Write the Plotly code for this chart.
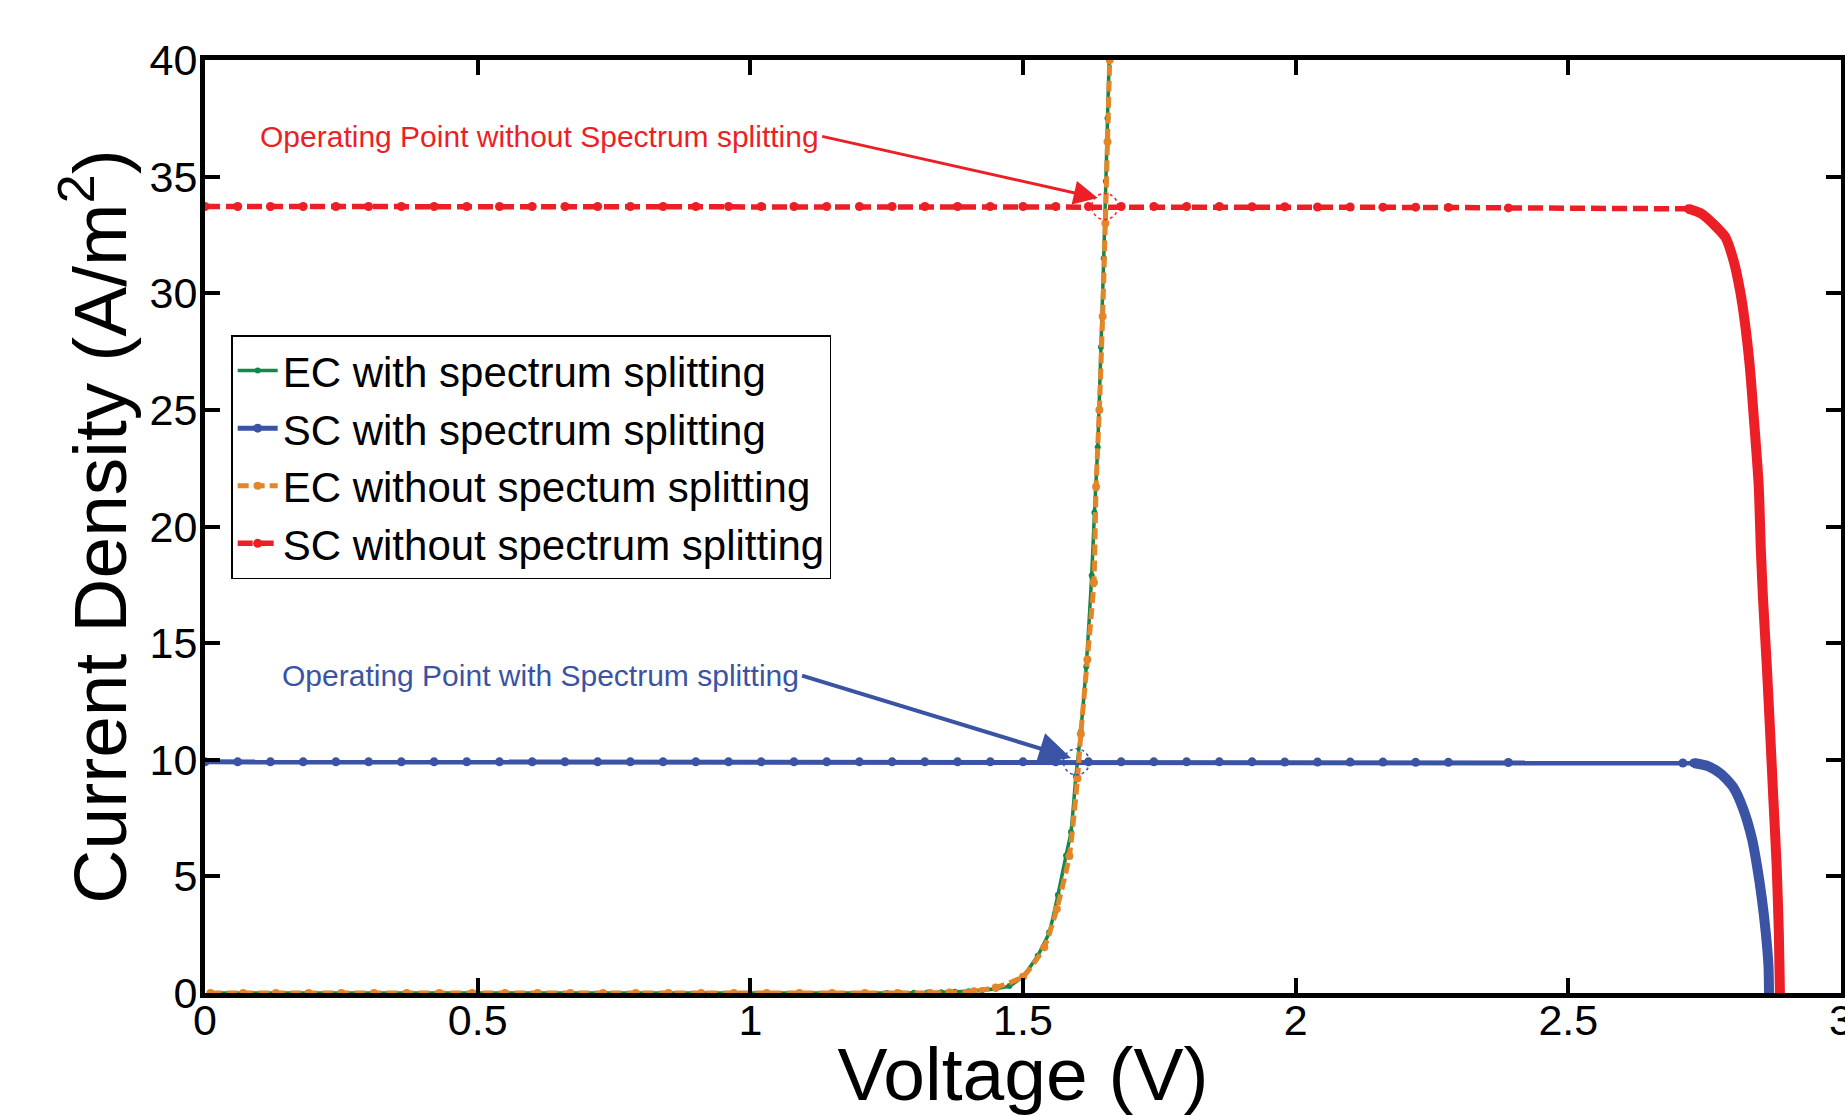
import plotly.graph_objects as go

# ---------------- data ----------------
# EC with spectrum splitting
ec_with_v = [0.01, 0.07, 0.13, 0.19, 0.25, 0.31, 0.37, 0.43, 0.49, 0.55, 0.61, 0.67,
             0.73, 0.79, 0.85, 0.91, 0.97, 1.03, 1.09, 1.15, 1.21, 1.25, 1.275, 1.30,
             1.325, 1.35, 1.375, 1.40, 1.425, 1.45, 1.475, 1.50, 1.527, 1.548, 1.564,
             1.579, 1.588, 1.597, 1.606, 1.616, 1.626, 1.631, 1.637, 1.643, 1.648,
             1.652, 1.655, 1.658]
ec_with_j = [0.0, 0.0, 0.0, 0.0, 0.0, 0.0, 0.0, 0.0, 0.0, 0.0, 0.0, 0.0,
             0.0, 0.0, 0.0, 0.0, 0.0, 0.0, 0.0, 0.0, 0.0, 0.0, 0.0, 0.01,
             0.02, 0.03, 0.05, 0.08, 0.12, 0.18, 0.30, 0.72, 1.6, 2.6, 4.2,
             5.9, 6.9, 9.3, 11.2, 14.0, 17.9, 20.6, 23.4, 27.7, 31.5,
             34.8, 37.5, 40.0]

# EC without spectrum splitting
ec_without_v = [0.01, 0.07, 0.13, 0.19, 0.25, 0.31, 0.37, 0.43, 0.49, 0.55, 0.61, 0.67,
                0.73, 0.79, 0.85, 0.91, 0.97, 1.03, 1.09, 1.15, 1.21, 1.27, 1.33, 1.365,
                1.41, 1.45, 1.50, 1.539, 1.562, 1.585, 1.600, 1.606, 1.618, 1.630,
                1.634, 1.640, 1.646, 1.651, 1.655, 1.659]
ec_without_j = [0.0, 0.0, 0.0, 0.0, 0.0, 0.0, 0.0, 0.0, 0.0, 0.0, 0.0, 0.0,
                0.0, 0.0, 0.0, 0.0, 0.0, 0.0, 0.0, 0.0, 0.0, 0.0, 0.0, 0.02,
                0.08, 0.24, 0.70, 1.96, 3.6, 5.87, 9.2, 11.1, 14.3, 17.6,
                21.7, 25.0, 29.0, 33.0, 36.5, 40.0]

# SC flat part (shared voltage grid)
sc_v = [0.00, 0.06, 0.12, 0.18, 0.24, 0.30, 0.36, 0.42, 0.48, 0.54, 0.60, 0.66,
        0.72, 0.78, 0.84, 0.90, 0.96, 1.02, 1.08, 1.14, 1.20, 1.26, 1.32, 1.38,
        1.44, 1.50, 1.56, 1.62, 1.68, 1.74, 1.80, 1.86, 1.92, 1.98, 2.04, 2.10,
        2.16, 2.22, 2.28, 2.39]
sc_with_flat_v = sc_v + [2.71, 2.73]
sc_with_flat_j = [9.91, 9.91, 9.91, 9.91, 9.91, 9.91, 9.91, 9.91, 9.91, 9.91, 9.91, 9.91,
                  9.91, 9.91, 9.91, 9.91, 9.91, 9.91, 9.91, 9.91, 9.91, 9.91, 9.91, 9.91,
                  9.91, 9.91, 9.91, 9.91, 9.91, 9.91, 9.91, 9.91, 9.91, 9.90, 9.90, 9.90,
                  9.90, 9.89, 9.89, 9.88, 9.86, 9.86]
sc_without_flat_v = sc_v + [2.72]
sc_without_flat_j = [33.72, 33.72, 33.72, 33.72, 33.72, 33.72, 33.72, 33.72, 33.72, 33.72,
                     33.72, 33.72, 33.72, 33.72, 33.72, 33.72, 33.72, 33.72, 33.72, 33.72,
                     33.72, 33.72, 33.72, 33.72, 33.72, 33.72, 33.72, 33.72, 33.72, 33.72,
                     33.72, 33.72, 33.71, 33.71, 33.70, 33.70, 33.69, 33.69, 33.68, 33.66,
                     33.62]

# SC knee (densely sampled part)
sc_with_knee_v = [2.73, 2.757, 2.781, 2.803, 2.821, 2.837, 2.846, 2.855, 2.862, 2.867, 2.868]
sc_with_knee_j = [9.86, 9.72, 9.37, 8.8, 7.87, 6.59, 5.45, 4.02, 2.6, 1.17, 0.0]
sc_without_knee_v = [2.72, 2.745, 2.769, 2.788, 2.803, 2.815, 2.824, 2.833, 2.840, 2.849,
                     2.853, 2.857, 2.864, 2.870, 2.876, 2.882, 2.886, 2.888]
sc_without_knee_j = [33.62, 33.4, 32.9, 32.4, 31.4, 30.1, 28.7, 26.8, 24.7, 21.8,
                     19.0, 16.9, 14.0, 11.2, 8.3, 5.45, 2.6, 0.0]

# operating points (intersections)
op_v = [1.650, 1.598]
op_j = [33.72, 9.91]
op_labels = ["Operating Point without Spectrum splitting",
             "Operating Point with Spectrum splitting"]
op_label_v = [1.129, 1.092]
op_label_j = [36.74, 13.63]
op_head_v = [1.637, 1.588]
op_head_j = [34.08, 10.08]

legend_names = ["EC with spectrum splitting", "SC with spectrum splitting",
                "EC without spectum splitting", "SC without spectrum splitting"]

GREEN = "#12894a"
BLUE = "#3a53a4"
ORANGE = "#e3862a"
RED = "#ed1f26"
FONT = "Liberation Sans, Arial, Helvetica, sans-serif"

fig = go.Figure()

fig.add_trace(go.Scatter(x=ec_with_v, y=ec_with_j, mode="lines+markers",
                         name=legend_names[0], cliponaxis=False,
                         line=dict(color=GREEN, width=3.5, shape="spline", smoothing=0.5),
                         marker=dict(color=GREEN, size=6)))
fig.add_trace(go.Scatter(x=sc_with_flat_v, y=sc_with_flat_j, mode="lines+markers",
                         name=legend_names[1],
                         line=dict(color=BLUE, width=5),
                         marker=dict(color=BLUE, size=9)))
fig.add_trace(go.Scatter(x=sc_with_knee_v, y=sc_with_knee_j, mode="lines",
                         showlegend=False, cliponaxis=False,
                         line=dict(color=BLUE, width=10, shape="spline", smoothing=0.6)))
fig.add_trace(go.Scatter(x=ec_without_v, y=ec_without_j, mode="lines+markers",
                         name=legend_names[2],
                         line=dict(color=ORANGE, width=5, dash="11px,5px",
                                   shape="spline", smoothing=0.5),
                         marker=dict(color=ORANGE, size=8)))
fig.add_trace(go.Scatter(x=sc_without_flat_v, y=sc_without_flat_j, mode="lines+markers",
                         name=legend_names[3],
                         line=dict(color=RED, width=5.5, dash="15px,6px"),
                         marker=dict(color=RED, size=9)))
fig.add_trace(go.Scatter(x=sc_without_knee_v, y=sc_without_knee_j, mode="lines",
                         showlegend=False,
                         line=dict(color=RED, width=10, shape="spline", smoothing=0.6)))

# dotted circles around operating points
op_colors = [RED, BLUE]
for v, j, c in zip(op_v, op_j, op_colors):
    fig.add_shape(type="circle", xref="x", yref="y", xsizemode="pixel", ysizemode="pixel",
                  xanchor=v, yanchor=j, x0=-13, x1=13, y0=-13, y1=13,
                  line=dict(color=c, width=1.5, dash="dot"))

# annotations with arrows
arrow_widths = [3, 4]
for txt, lv, lj, hv, hj, c, aw in zip(op_labels, op_label_v, op_label_j, op_head_v,
                                      op_head_j, op_colors, arrow_widths):
    fig.add_annotation(x=lv, y=lj, text=txt, showarrow=False, xanchor="right",
                       yanchor="middle", font=dict(family=FONT, size=30, color=c))
    fig.add_annotation(x=hv, y=hj, ax=lv, ay=lj, axref="x", ayref="y", text="",
                       showarrow=True, arrowhead=2, arrowsize=1.6, arrowwidth=aw,
                       arrowcolor=c, standoff=0)

axis_common = dict(showgrid=False, zeroline=False, showline=True, linecolor="black",
                   linewidth=5, mirror="ticks", ticks="inside", ticklen=15,
                   tickwidth=4, tickcolor="black",
                   tickfont=dict(family=FONT, size=43, color="black"))

fig.update_xaxes(range=[0, 3], tickvals=[0, 0.5, 1, 1.5, 2, 2.5, 3],
                 ticktext=["0", "0.5", "1", "1.5", "2", "2.5", "3"],
                 ticklabeloverflow="allow", ticklabelstandoff=-15,
                 title=dict(text="Voltage (V)", font=dict(family=FONT, size=75, color="black"),
                            standoff=19),
                 **axis_common)
fig.update_yaxes(range=[0, 40], tickvals=[0, 5, 10, 15, 20, 25, 30, 35, 40],
                 ticklabeloverflow="allow",
                 title=dict(text="Current Density (A/m<sup>2</sup>)",
                            font=dict(family=FONT, size=75, color="black"), standoff=0),
                 ticklabelstandoff=-6,
                 **axis_common)

fig.update_layout(
    width=1845, height=1116,
    margin=dict(l=205, r=4, t=60, b=123, autoexpand=False),
    paper_bgcolor="white", plot_bgcolor="white",
    font=dict(family=FONT, color="black"),
    legend=dict(x=0.016, y=0.705, xanchor="left", yanchor="top",
                bgcolor="white", bordercolor="black", borderwidth=1.5,
                font=dict(family=FONT, size=42, color="black"),
                itemwidth=40, tracegroupgap=0),
)

fig.write_html("out.html")
